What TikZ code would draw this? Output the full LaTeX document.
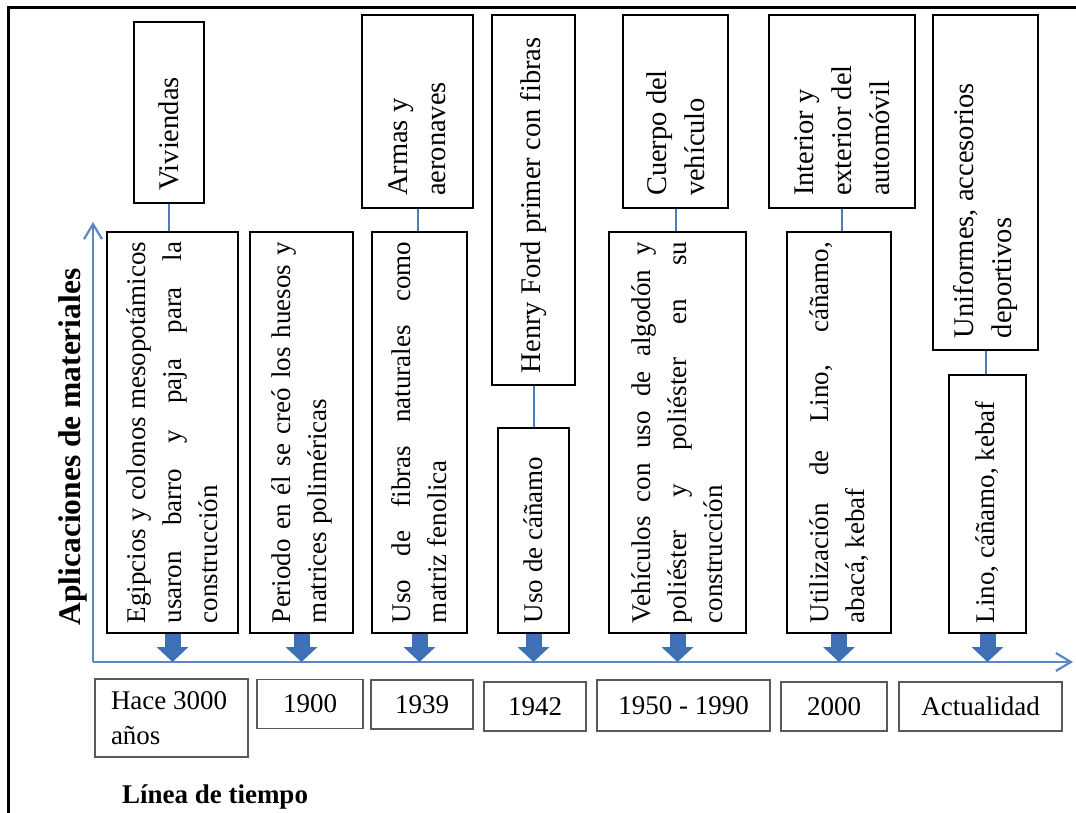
\documentclass[tikz,border=0pt]{standalone}
\usepackage{fontspec}
\setmainfont{Liberation Serif}
\usepackage{xcolor}
\usepackage{tikz}
\usetikzlibrary{shapes,arrows.meta,positioning,calc}

\definecolor{axisblue}{HTML}{5B87C5}
\definecolor{arrowblue}{HTML}{3F6FB5}
\definecolor{linkblue}{HTML}{4A7EBB}

% one justified line of a box
\newcommand{\jline}[2][381pt]{\makebox[#1][s]{#2}}

\begin{document}
\begin{tikzpicture}[x=1pt, y=-1pt,
    appbox/.style={draw, line width=2.2pt, rotate=90, inner xsep=12pt, inner ysep=0pt, align=flush left, font=\fontsize{28.5}{38}\selectfont},
    matbox/.style={draw, line width=2.2pt, rotate=90, inner xsep=10pt, inner ysep=0pt, align=flush left, font=\fontsize{27}{36}\selectfont},
    datebox/.style={draw=black!65, line width=1.3pt, inner sep=0pt, font=\fontsize{27}{35}\selectfont},
    link/.style={draw=linkblue, line width=2pt},
    flow/.style={draw=arrowblue, line width=16pt, -{Triangle[width=31pt,length=15pt]}},
    axis/.style={draw=axisblue, line width=2.2pt, -{Straight Barb[length=15pt,width=18pt]}},
    lbl/.style={font=\bfseries\fontsize{27}{32}\selectfont}]
        \useasboundingbox (0,0) rectangle (1076,813);

        % Frame
        \draw[line width=3pt] (8,813) -- (8,8) -- (1076,8);

        % Axes
        \coordinate (o) at (93,662);
        \coordinate (xend) at (1073,662);
        \coordinate (yend) at (93,222);
        \draw[axis] (o) -- (xend);
        \draw[axis] (o) -- (yend);
        \node[lbl, rotate=90, font=\bfseries\fontsize{31.5}{36}\selectfont] (ylab) at (73,447) {Aplicaciones de materiales};
        \node[lbl] (xlab) at (215,797) {Línea de tiempo};

        % Applications (top row)
        \node[appbox, minimum width=181, minimum height=70, text width=157pt] (v1) at (169,112.5) {Viviendas};
        \node[appbox, minimum width=193, minimum height=111, text width=169pt] (v2) at (417.5,111.5) {Armas y\\aeronaves};
        \node[appbox, minimum width=370, minimum height=83, text width=346pt] (v3) at (533.5,200) {Henry Ford primer con fibras};
        \node[appbox, minimum width=193, minimum height=105, text width=169pt] (v4) at (675.5,111.5) {Cuerpo del\\vehículo};
        \node[appbox, minimum width=193, minimum height=146, text width=169pt] (v5) at (842,111.5) {Interior y\\exterior del\\automóvil};
        \node[appbox, minimum width=335, minimum height=105, text width=311pt] (v6) at (985.5,182.5) {Uniformes, accesorios\\deportivos};

        % Materials (bottom row)
        \node[matbox, minimum width=401, minimum height=131, text width=381pt] (m1) at (172.5,432.5) {\jline{Egipcios y colonos mesopotámicos}\\\jline{usaron barro y paja para la}\\construcción};
        \node[matbox, minimum width=401, minimum height=103, text width=381pt] (m2) at (301.5,432.5) {\jline{Periodo en él se creó los huesos y}\\matrices poliméricas};
        \node[matbox, minimum width=401, minimum height=95, text width=381pt] (m3) at (419.5,432.5) {\jline{Uso de fibras naturales como}\\matriz fenolica};
        \node[matbox, minimum width=205, minimum height=71, text width=185pt] (m4) at (533.5,530.5) {Uso de cáñamo};
        \node[matbox, minimum width=401, minimum height=137, text width=381pt] (m5) at (677.5,432.5) {\jline{Vehículos con uso de algodón y}\\\jline{poliéster y poliéster en su}\\construcción};
        \node[matbox, minimum width=401, minimum height=104, text width=381pt] (m6) at (839,432.5) {\jline{Utilización de Lino, cáñamo,}\\abacá, kebaf};
        \node[matbox, minimum width=258, minimum height=77, text width=238pt] (m7) at (987.5,504) {Lino, cáñamo, kebaf};

        % Links (rotated boxes: west = bottom, east = top)
        \draw[link] (v1.west) -- (v1.west |- m1.east);
        \draw[link] (v2.west) -- (v2.west |- m3.east);
        \draw[link] (v3.west) -- (v3.west |- m4.east);
        \draw[link] (v4.west) -- (v4.west |- m5.east);
        \draw[link] (v5.west) -- (v5.west |- m6.east);
        \draw[link] (v6.west) -- (v6.west |- m7.east);

        % Arrows down to the time line
        \foreach \m in {m1,m2,m3,m4,m5,m6,m7}
          \draw[flow] (\m.west) -- (\m.west |- o);

        % Dates
        \node[datebox, minimum width=153, minimum height=78, text width=121pt, align=flush left] (d1) at (171.5,718) {Hace 3000\\años};
        \node[datebox, minimum width=106, minimum height=49] (d2) at (310,704) {1900};
        \node[datebox, minimum width=102, minimum height=49] (d3) at (422,704.5) {1939};
        \node[datebox, minimum width=102, minimum height=49] (d4) at (535,706.5) {1942};
        \node[datebox, minimum width=173, minimum height=51] (d5) at (683.5,705.5) {1950 - 1990};
        \node[datebox, minimum width=106, minimum height=49] (d6) at (834,706.5) {2000};
        \node[datebox, minimum width=163, minimum height=49] (d7) at (980.5,706.5) {Actualidad};
      \end{tikzpicture}
\end{document}
